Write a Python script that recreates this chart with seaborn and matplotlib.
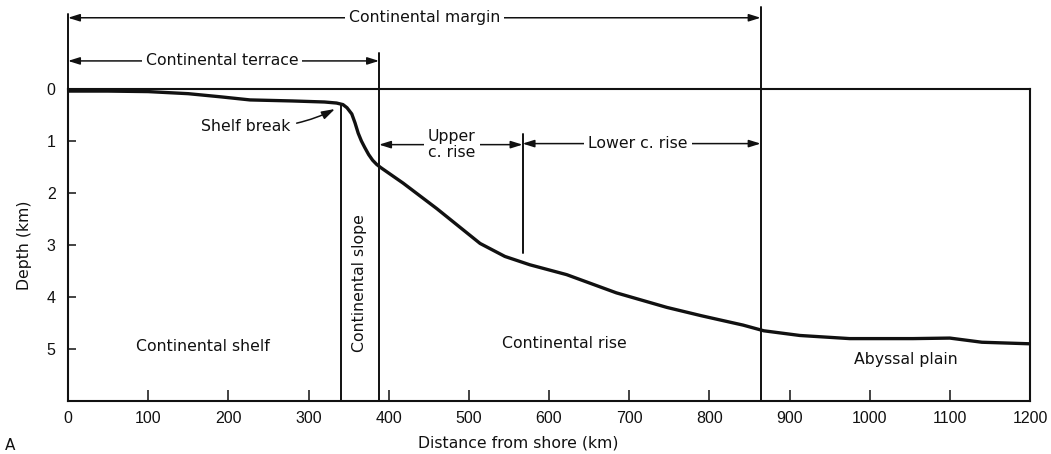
import matplotlib
matplotlib.use('Agg')
import matplotlib.pyplot as plt
import seaborn as sns

# bathymetric profile (km from shore, km depth)
distance_km = [0, 50, 100, 150, 190, 227, 280, 320, 335, 343, 348, 354, 358,
               362, 366, 370, 375, 380, 385, 390, 418, 460, 514, 545, 576,
               622, 684, 747, 790, 813, 842, 868, 913, 975, 1054, 1100, 1140,
               1200]
depth_km = [0.04, 0.04, 0.05, 0.09, 0.15, 0.21, 0.23, 0.25, 0.27, 0.30, 0.36,
            0.48, 0.65, 0.85, 1.00, 1.12, 1.26, 1.37, 1.45, 1.51, 1.81, 2.30,
            2.97, 3.22, 3.38, 3.57, 3.92, 4.20, 4.36, 4.44, 4.54, 4.65, 4.74,
            4.80, 4.80, 4.79, 4.87, 4.90]

x_ticks = [0, 100, 200, 300, 400, 500, 600, 700, 800, 900, 1000, 1100, 1200]
y_ticks = [0, 1, 2, 3, 4, 5]

# province boundaries (km)
shelf_break = 340
slope_end = 388
rise_split = 567
margin_end = 864

sns.set_style('ticks')
plt.rcParams['font.family'] = ['DejaVu Sans']
ink = '#111111'
fs = 11.3
tick_font = {'family': 'Liberation Sans', 'size': 11.5}

fig = plt.figure(figsize=(10.51, 4.54), dpi=100)
ax = fig.add_axes([68 / 1051, 1 - 401 / 454, 962 / 1051, 312 / 454])

sns.lineplot(x=distance_km, y=depth_km, color=ink, lw=2.4, errorbar=None, ax=ax)

ax.set_xlim(0, 1200)
ax.set_ylim(6, 0)
ax.set_xticks(x_ticks)
ax.set_yticks(y_ticks)
ax.set_xticklabels([str(v) for v in x_ticks], fontdict=tick_font)
ax.set_yticklabels([str(v) for v in y_ticks], fontdict=tick_font)
ax.tick_params(axis='x', direction='in', length=8, width=1.1, pad=7, colors=ink)
ax.tick_params(axis='y', direction='in', length=6, width=1.1, pad=9, colors=ink)
for s in ax.spines.values():
    s.set_linewidth(1.5)
    s.set_color(ink)

ax.set_xlabel('Distance from shore (km)', fontsize=fs, color=ink)
ax.xaxis.set_label_coords((518 - 68) / 962, -(443 - 401) / 312)
ax.xaxis.label.set_va('center')
ax.set_ylabel('Depth (km)', fontsize=fs, color=ink)
ax.yaxis.set_label_coords(-43 / 962, 0.5)
ax.yaxis.label.set_va('center')

# boundary lines
vlines = [(0, -1.44, 0), (margin_end, -1.58, 6), (slope_end, -0.69, 6),
          (shelf_break, 0.3, 6), (rise_split, 0.87, 3.15)]
for x, y0, y1 in vlines:
    ax.plot([x, x], [y0, y1], color=ink, lw=1.4, clip_on=False)


def span(x0, x1, y, label, xm=None, **kw):
    if xm is None:
        xm = (x0 + x1) / 2
    for end in (x0, x1):
        ax.annotate('', xy=(end, y), xytext=(xm, y), annotation_clip=False,
                    arrowprops=dict(arrowstyle='-|>,head_length=0.7,head_width=0.22',
                                    color=ink, lw=1.1, shrinkA=0, shrinkB=0))
    ax.text(xm, y, label, ha='center', va='center', fontsize=fs, color=ink,
            zorder=5, clip_on=False,
            bbox=dict(boxstyle='square,pad=0.25', fc='white', ec='none'), **kw)


span(0, margin_end, -1.37, 'Continental margin', xm=445)
span(0, slope_end, -0.54, 'Continental terrace', xm=192)
span(slope_end, rise_split, 1.07, 'Upper\nc. rise', xm=479, linespacing=1.1)
span(rise_split, margin_end, 1.05, 'Lower c. rise', xm=711)

ax.annotate('Shelf break', xy=(336, 0.36), xytext=(222, 0.72), ha='center',
            va='center', fontsize=fs, color=ink,
            arrowprops=dict(arrowstyle='-|>,head_length=0.7,head_width=0.22',
                            color=ink, lw=1.1, connectionstyle='arc3,rad=0.15'))

ax.text(168, 4.96, 'Continental shelf', ha='center', va='center', fontsize=fs, color=ink)
ax.text(364, 3.73, 'Continental slope', ha='center', va='center', rotation=90,
        fontsize=fs, color=ink)
ax.text(619, 4.9, 'Continental rise', ha='center', va='center', fontsize=fs, color=ink)
ax.text(1045, 5.21, 'Abyssal plain', ha='center', va='center', fontsize=fs, color=ink)

fig.text(10 / 1051, 1 - 445 / 454, 'A', ha='center', va='center', fontsize=11, color=ink)

fig.savefig('out.png', dpi=100)
